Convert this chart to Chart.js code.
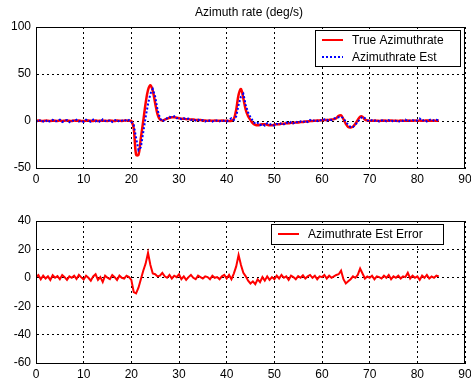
<!DOCTYPE html>
<html>
<head>
<meta charset="utf-8">
<script src="https://cdn.jsdelivr.net/npm/chart.js@4/dist/chart.umd.min.js"></script>
<style>
  html, body { margin: 0; padding: 0; background: #fff; }
  #wrap { position: relative; width: 471px; height: 381px; }
  #wrap canvas { position: absolute; left: 0; }
</style>
</head>
<body>
<div id="wrap">
  <canvas id="topChart" width="471" height="190" style="top:0"></canvas>
  <canvas id="botChart" width="471" height="191" style="top:190px"></canvas>
</div>
<script>
// sample times (s), 0.5 s apart
const time = [
  0, 0.5, 1, 1.5, 2, 2.5, 3, 3.5, 4, 4.5,
  5, 5.5, 6, 6.5, 7, 7.5, 8, 8.5, 9, 9.5,
  10, 10.5, 11, 11.5, 12, 12.5, 13, 13.5, 14, 14.5,
  15, 15.5, 16, 16.5, 17, 17.5, 18, 18.5, 19, 19.5,
  20, 20.5, 21, 21.5, 22, 22.5, 23, 23.5, 24, 24.5,
  25, 25.5, 26, 26.5, 27, 27.5, 28, 28.5, 29, 29.5,
  30, 30.5, 31, 31.5, 32, 32.5, 33, 33.5, 34, 34.5,
  35, 35.5, 36, 36.5, 37, 37.5, 38, 38.5, 39, 39.5,
  40, 40.5, 41, 41.5, 42, 42.5, 43, 43.5, 44, 44.5,
  45, 45.5, 46, 46.5, 47, 47.5, 48, 48.5, 49, 49.5,
  50, 50.5, 51, 51.5, 52, 52.5, 53, 53.5, 54, 54.5,
  55, 55.5, 56, 56.5, 57, 57.5, 58, 58.5, 59, 59.5,
  60, 60.5, 61, 61.5, 62, 62.5, 63, 63.5, 64, 64.5,
  65, 65.5, 66, 66.5, 67, 67.5, 68, 68.5, 69, 69.5,
  70, 70.5, 71, 71.5, 72, 72.5, 73, 73.5, 74, 74.5,
  75, 75.5, 76, 76.5, 77, 77.5, 78, 78.5, 79, 79.5,
  80, 80.5, 81, 81.5, 82, 82.5, 83, 83.5, 84, 84.5
];

const trueRate = [
  0, 0.5, 0.2, 0, 0.4, 0.3, 0, 0.5, 0.2, 0.1,
  0.4, 0, 0.3, 0.6, 0.2, 0, 0.4, 0.2, 0.5, 0.1,
  0, 0.3, 0.6, 0.2, 0.1, 0.4, 0, 0.3, 0.5, 0.2,
  0.1, 0.4, 0.2, 0, 0.5, 0.3, 0.1, 0.4, 0.6, 0.2,
  0, -8, -36, -36, -18, 0, 19, 33, 38, 32,
  19, 7, 1.5, 0.5, 1.5, 2.5, 3.5, 4, 4, 3.5,
  3, 2.5, 2.5, 2, 2, 1.5, 1.5, 1, 1, 1,
  0.5, 0.5, 0.3, 0.5, 0.2, 0.4, 0.3, 0.2, 0.4, 0.3,
  0.2, 0.1, 0.3, 2, 12, 28, 34, 24, 12, 5,
  1, -2.5, -4, -4.5, -4, -3.5, -3.5, -4, -4.5, -4.5,
  -4, -3.5, -3.5, -3, -3, -2.5, -2.5, -2, -2, -1.5,
  -1.5, -1, -1, -0.5, -0.5, 0, 0, 0.3, 0.5, 0.5,
  0.8, 1, 1, 1.2, 1.5, 2, 3, 5.5, 6, 2,
  -3, -6.5, -7, -6, -3, 1, 4.5, 4.5, 1.5, 0.5,
  0.3, 0.2, 0.4, 0.3, 0.1, 0.3, 0.5, 0.2, 0.3, 0.4,
  0.2, 0.3, 0.1, 0.4, 0.3, 0.2, 0.5, 0.3, 0.2, 0.4,
  0.3, 0.5, 0.2, 0.4, 0.6, 0.3, 0.2, 0.4, 0.3, 0.5
];

const estRate = [
  0.5, -1, 1.5, -0.5, 1, -1.5, 0.5, 1.2, -0.8, 0.3,
  1.5, -1, 0.2, 1, -1.2, 0.8, -0.3, 1.4, -0.6, 0.5,
  -1, 1.3, 0.2, -0.8, 1.6, -0.4, 0.9, -1.3, 1.8, 0.1,
  -0.7, 1.2, -1.1, 0.6, 1.5, -0.9, 0.4, 1.7, -0.5, 1,
  -1, -4, -18, -31, -28, -12, 4, 18, 29, 34,
  26, 12, 3, -0.5, 1, 3, 4.5, 3.5, 5, 3,
  3.5, 2, 3, 1.5, 2.5, 1, 2, 0.5, 1.5, 0,
  1, -0.5, 1.2, 0, -0.8, 1, 0.3, -0.5, 1.1, 0,
  -0.6, 1.2, 3, 1, 5, 17, 26, 29, 17, 9,
  4, 0, -3, -2, -4.5, -3, -5, -2.5, -4, -3,
  -5, -3, -4, -2, -3.5, -1.5, -3, -1, -2.5, -0.5,
  -2, -0.5, -1.5, 0.5, -1, 1, -0.5, 1.2, 0, 1.5,
  0, 1.8, 0.5, 2, 1, 2.5, 3.5, 4, 4.5, 3,
  -1, -4, -6.5, -6.5, -4, -1, 2.5, 4.5, 3, 1,
  -0.5, 1, 0, 1.3, -0.7, 0.5, 1.2, -0.4, 0.8, -1,
  1, 0.2, -1.2, 0.9, 0, 1.4, -0.6, 0.7, 1.1, -0.3,
  0.8, 2.5, 0, 1.5, -0.5, 1, 2, 0.3, 1.2, 0.5
];

const estError = [
  0.5, 2, -1, 1.5, -0.5, 1, -1.5, 1.8, 0, 1.2,
  -1, 2, 0.5, -1.5, 1, 0, 1.5, -0.8, 2, 0.3,
  -1.2, 1.5, 0, -2, 1, 2.5, -1.5, 0.5, -3, 1.5,
  0, -1, 2, 0.5, -1.5, 1.5, 0, -0.5, 1.5, 0.5,
  -1.5, -10, -11, -7, -1, 5, 10, 17.5, 9, 3,
  2.5, 1, 1.5, 3.5, 1, 0, 2, -0.5, 1.5, 0.5,
  2.5, -1, 1, -1.5, 0.5, 2, 0, -1, 1.5, 0.5,
  -0.5, 1, 0.5, -1, 1.5, 0, 0.5, -1, 1, 2,
  -0.5, 2, -1, 3, 8, 16, 9, 3.5, 1, -2,
  -4, -2.5, -4.5, -1, -3, 0.5, -2, 1, -1.5, 0.5,
  -1, 1.5, -0.5, 2, 0, 1, -1.5, 1.5, 0.5, -1,
  1.2, 0, 1.8, -0.5, 1, 2, 0, 1.5, -1, 1,
  0.5, 2, -0.5, 1.5, 0, 1, 2, 2.5, 5, -1,
  -4, -2.5, -1, 1, 0, 2, 6.5, 3, -0.5, 1,
  0, 1.5, -1, 1, 0.5, -0.5, 1.5, 0, 2, -1,
  1, 0, 1.5, -0.5, 1, 0.5, 3.5, -0.5, 1.5, 0,
  1, -1.5, 1.5, 0, 2, -0.5, 1, 0, 1.5, 1
];

const xTicks = [0, 10, 20, 30, 40, 50, 60, 70, 80, 90];
const topYTicks = [-50, 0, 50, 100];
const botYTicks = [-60, -40, -20, 0, 20, 40];

const FONT = "'Liberation Sans', Arial, Helvetica, sans-serif";

function pts(ys) {
  return time.map((t, i) => ({ x: t, y: ys[i] }));
}

// solid box round the plot area, plus title and legend, matlab style
const frame = {
  id: 'frame',
  afterDraw(chart, args, opts) {
    const { ctx, chartArea: a } = chart;
    ctx.save();
    ctx.strokeStyle = '#000';
    ctx.lineWidth = 1;
    ctx.setLineDash([]);
    ctx.strokeRect(Math.round(a.left) + 0.5, Math.round(a.top) + 0.5,
      Math.round(a.right - a.left) - 1, Math.round(a.bottom - a.top));
    ctx.font = '12px ' + FONT;
    ctx.fillStyle = '#000';
    if (opts.title) {
      ctx.textAlign = 'center';
      ctx.textBaseline = 'middle';
      ctx.fillText(opts.title, 249, 13);
    }
    const lg = opts.legend;
    if (lg) {
      ctx.fillStyle = '#fff';
      ctx.fillRect(lg.x, lg.y, lg.w, lg.h);
      ctx.strokeStyle = '#000';
      ctx.strokeRect(lg.x + 0.5, lg.y + 0.5, lg.w, lg.h);
      lg.items.forEach(it => {
        ctx.beginPath();
        ctx.strokeStyle = it.color;
        ctx.lineWidth = 2;
        ctx.setLineDash(it.dash || []);
        ctx.moveTo(lg.x + 7, it.y);
        ctx.lineTo(lg.x + 28, it.y);
        ctx.stroke();
        ctx.setLineDash([]);
        ctx.fillStyle = '#000';
        ctx.textAlign = 'left';
        ctx.textBaseline = 'middle';
        ctx.fillText(it.label, lg.x + lg.tx, it.y + 1);
      });
    }
    ctx.restore();
  }
};

function axes(yMin, yMax, yTicks, xHeight) {
  return {
    x: {
      type: 'linear', min: 0, max: 90,
      afterBuildTicks: s => { s.ticks = xTicks.map(v => ({ value: v })); },
      afterFit: s => { s.height = xHeight; s.paddingLeft = 0; s.paddingRight = 0; },
      grid: { color: '#000', drawTicks: false, lineWidth: 1 },
      border: { color: '#000', dash: [2, 3] },
      ticks: { color: '#000', font: { family: FONT, size: 12 }, padding: 4, maxRotation: 0 }
    },
    y: {
      type: 'linear', min: yMin, max: yMax,
      afterBuildTicks: s => { s.ticks = yTicks.map(v => ({ value: v })); },
      afterFit: s => { s.width = 36; },
      grid: { color: '#000', drawTicks: false, lineWidth: 1 },
      border: { color: '#000', dash: [2, 3] },
      ticks: { color: '#000', font: { family: FONT, size: 12 }, padding: 5 }
    }
  };
}

new Chart(document.getElementById('topChart'), {
  type: 'line',
  data: {
    datasets: [
      { label: 'True Azimuthrate', data: pts(trueRate), borderColor: '#ff0000',
        borderWidth: 2.5, pointRadius: 0, tension: 0.35, order: 1 },
      { label: 'Azimuthrate Est', data: pts(estRate), borderColor: '#0000ff',
        borderWidth: 2, borderDash: [2, 2], pointRadius: 0, order: 0 }
    ]
  },
  options: {
    responsive: false,
    animation: false,
    layout: { padding: { top: 27, right: 6, left: 0, bottom: 0 } },
    scales: axes(-50, 100, topYTicks, 22),
    plugins: {
      legend: { display: false },
      tooltip: { enabled: false },
      frame: {
        title: 'Azimuth rate (deg/s)',
        legend: { x: 315, y: 30, w: 145, h: 36, tx: 37, items: [
          { label: 'True Azimuthrate', color: '#ff0000', y: 40 },
          { label: 'Azimuthrate Est', color: '#0000ff', dash: [2, 2], y: 57 }
        ] }
      }
    }
  },
  plugins: [frame]
});

new Chart(document.getElementById('botChart'), {
  type: 'line',
  data: {
    datasets: [
      { label: 'Azimuthrate Est Error', data: pts(estError), borderColor: '#ff0000',
        borderWidth: 2, pointRadius: 0 }
    ]
  },
  options: {
    responsive: false,
    animation: false,
    layout: { padding: { top: 31, right: 6, left: 0, bottom: 0 } },
    scales: axes(-60, 40, botYTicks, 18),
    plugins: {
      legend: { display: false },
      tooltip: { enabled: false },
      frame: {
        legend: { x: 271, y: 34, w: 172, h: 20, tx: 37, items: [
          { label: 'Azimuthrate Est Error', color: '#ff0000', y: 44 }
        ] }
      }
    }
  },
  plugins: [frame]
});
</script>
</body>
</html>
